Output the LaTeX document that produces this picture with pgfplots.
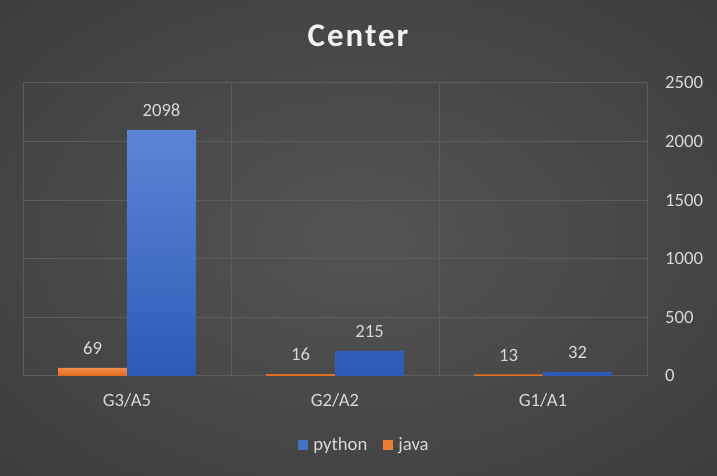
\documentclass[border=0pt]{standalone}
\usepackage{pgfplots}
\pgfplotsset{compat=1.18}
\usepackage{fontspec}
\setmainfont{Carlito}
\definecolor{txt}{HTML}{D9D9D9}
\definecolor{gridc}{HTML}{5C5C5C}
\definecolor{bgin}{HTML}{545454}
\definecolor{bgout}{HTML}{262626}
\definecolor{pytop}{HTML}{5B86D6}
\definecolor{pybot}{HTML}{2E5AB6}
\definecolor{jvtop}{HTML}{F28B45}
\definecolor{jvbot}{HTML}{E0691C}
\definecolor{pyleg}{HTML}{4472C4}
\definecolor{jvleg}{HTML}{ED7D31}
\pgfdeclareradialshading{bgshade}{\pgfpoint{0bp}{0bp}}{color(0bp)=(bgin); color(72bp)=(bgout)}
\newcommand{\tfont}{\fontsize{18.7bp}{22bp}\selectfont}
\begin{document}
\begin{tikzpicture}[x=1bp,y=1bp]
\useasboundingbox (0,0) rectangle (717,476);
\shade[shading=bgshade] (0,0) rectangle (717,476);
\node[anchor=base, text=white!95!black, inner sep=0pt] at (358,429.3)
  {\fontspec{Carlito}[LetterSpace=6]\bfseries\fontsize{33bp}{38bp}\selectfont Center};
\begin{axis}[
  at={(23bp,100bp)}, anchor=south west,
  scale only axis, width=624bp, height=293bp,
  xmin=-0.5, xmax=2.5, ymin=0, ymax=2500,
  axis line style={draw=none},
  ybar=0pt, bar width=69bp,
  xtick={0,1,2}, xticklabels={G3/A5,G2/A2,G1/A1},
  minor xtick={-0.5,0.5,1.5,2.5},
  xminorgrids=true, xmajorgrids=false,
  ytick={0,500,1000,1500,2000,2500},
  ymajorgrids=true,
  grid style={gridc, line width=1bp},
  minor grid style={gridc, line width=1bp},
  major tick length=0pt, minor tick length=0pt,
  /pgf/number format/.cd, 1000 sep={}, assume math mode=true, /pgfplots/.cd,
  tick label style={font=\tfont, text=txt, inner sep=0pt},
  xticklabel style={anchor=base, yshift=-30.7bp},
  yticklabel pos=right,
  yticklabel style={anchor=base west, xshift=18bp, yshift=-6bp},
  legend columns=-1,
  legend style={at={(0.5457,-0.2355)}, anchor=center, draw=none, fill=none,
    font=\tfont, text=txt, nodes={inner sep=0pt},
    /tikz/every odd column/.append style={column sep=5bp},
    /tikz/every even column/.append style={column sep=16bp}},
  legend image code/.code={\fill[#1] (0bp,-5bp) rectangle (10bp,5bp);},
]
\addlegendimage{fill=pyleg, draw=none}
\addlegendentry{python}
\addlegendimage{fill=jvleg, draw=none}
\addlegendentry{java}
\addplot[draw=none, top color=jvtop, bottom color=jvbot, bar shift=-34.5bp,
  nodes near coords, every node near coord/.append style={font=\tfont, text=txt, anchor=base, inner sep=0pt, yshift=13.3bp}]
  coordinates {(0,69) (1,16) (2,13)};
\addplot[draw=none, top color=pytop, bottom color=pybot, bar shift=34.5bp,
  nodes near coords, every node near coord/.append style={font=\tfont, text=txt, anchor=base, inner sep=0pt, yshift=13.3bp}]
  coordinates {(0,2098) (1,215) (2,32)};
\end{axis}
\end{tikzpicture}
\end{document}
